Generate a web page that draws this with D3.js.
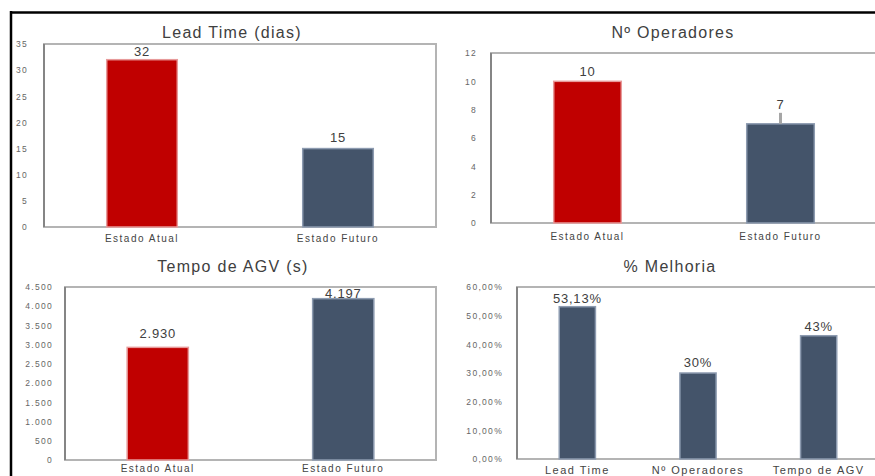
<!DOCTYPE html>
<html>
<head>
<meta charset="utf-8">
<script src="https://cdn.jsdelivr.net/npm/d3@7"></script>
<style>
  body { margin: 0; background: #fff; }
  svg { display: block; font-family: "Liberation Sans", Arial, sans-serif; }
</style>
</head>
<body>
<svg id="chart" width="875" height="476"></svg>
<script>
// data
const estados = ["Estado Atual", "Estado Futuro"];
const leadTime = [32, 15];
const operadores = [10, 7];
const tempoAGV = [2930, 4197];
const melhoriaCats = ["Lead Time", "Nº Operadores", "Tempo de AGV"];
const melhoria = [53.13, 30, 43];

const leadTicks = [0, 5, 10, 15, 20, 25, 30, 35];
const operTicks = [0, 2, 4, 6, 8, 10, 12];
const agvTicks = [0, 500, 1000, 1500, 2000, 2500, 3000, 3500, 4000, 4500];
const melhoriaTicks = [0, 10, 20, 30, 40, 50, 60];

const colorsTwo = ["#C00000", "#44546A"];
const edgeTwo = ["#e79a9a", "#8d9bb0"];

const pt = d3.formatLocale({ decimal: ",", thousands: ".", grouping: [3], currency: ["R$", ""] });
const fmtThousands = pt.format(",d");
const fmtPct2 = v => pt.format(",.2f")(v) + "%";

const svg = d3.select("#chart");

// outer black border (right/bottom cut off in the picture)
svg.append("line").attr("x1", 10).attr("x2", 875).attr("y1", 12.5).attr("y2", 12.5)
  .attr("stroke", "#000").attr("stroke-width", 2.5);
svg.append("line").attr("x1", 11).attr("x2", 11).attr("y1", 11).attr("y2", 476)
  .attr("stroke", "#000").attr("stroke-width", 2.5);

function panel(cfg) {
  const g = svg.append("g");
  const x = d3.scalePoint().domain(cfg.cats).range([cfg.x0, cfg.x1]).padding(0.5);
  const y = d3.scaleLinear().domain([0, cfg.max]).range([cfg.y1, cfg.y0]);
  const bw = x.step() * cfg.barFrac;

  // plot frame
  g.append("rect")
    .attr("x", cfg.x0).attr("y", cfg.y0)
    .attr("width", cfg.x1 - cfg.x0).attr("height", cfg.y1 - cfg.y0)
    .attr("fill", "#fff").attr("stroke", "#b4b4b4").attr("stroke-width", 2);
  g.append("line").attr("x1", cfg.x0).attr("x2", cfg.x0).attr("y1", cfg.y0).attr("y2", cfg.y1)
    .attr("stroke", "#858585").attr("stroke-width", 2);

  // title
  g.append("text").attr("x", cfg.titleX).attr("y", cfg.titleY)
    .attr("text-anchor", "middle").attr("font-size", 16).attr("letter-spacing", 1.3)
    .attr("fill", "#404040")
    .text(cfg.title);

  // y axis
  const ya = g.append("g").attr("transform", `translate(${cfg.x0},0)`)
    .call(d3.axisLeft(y).tickValues(cfg.ticks).tickFormat(cfg.tickFmt).tickSize(0).tickPadding(cfg.tickPad));
  ya.select(".domain").remove();
  ya.selectAll("text").attr("font-size", 8.5).attr("letter-spacing", 1.3).attr("fill", "#666")
    .attr("font-family", "Liberation Sans, Arial, sans-serif");

  // x labels
  g.selectAll(".xl").data(cfg.cats).enter().append("text")
    .attr("x", d => x(d)).attr("y", cfg.y1 + cfg.xLabelDy)
    .attr("text-anchor", "middle").attr("font-size", cfg.xLabelSize)
    .attr("letter-spacing", 1.5).attr("fill", "#444")
    .text(d => d);

  // bars
  g.selectAll(".bar").data(cfg.values).enter().append("rect")
    .attr("x", (d, i) => x(cfg.cats[i]) - bw / 2)
    .attr("y", d => y(d))
    .attr("width", bw)
    .attr("height", d => cfg.y1 - y(d))
    .attr("fill", (d, i) => cfg.colors[i % cfg.colors.length])
    .attr("stroke", (d, i) => cfg.edges[i % cfg.edges.length])
    .attr("stroke-width", 1.5);

  // value labels
  g.selectAll(".vl").data(cfg.values).enter().append("text")
    .attr("x", (d, i) => x(cfg.cats[i]))
    .attr("y", (d, i) => y(d) - cfg.labelGap[i])
    .attr("text-anchor", "middle").attr("font-size", 13).attr("letter-spacing", 0.8)
    .attr("fill", "#404040")
    .text((d, i) => cfg.labelFmt(d));

  return { g, x, y };
}

panel({
  title: "Lead Time (dias)", titleX: 232, titleY: 38,
  cats: estados, values: leadTime, max: 35, ticks: leadTicks,
  tickFmt: d3.format("d"), tickPad: 16,
  x0: 44, x1: 436, y0: 44, y1: 227, barFrac: 0.36,
  colors: colorsTwo, edges: edgeTwo,
  xLabelDy: 15, xLabelSize: 10,
  labelGap: [4, 7], labelFmt: d3.format("d")
});

const p2 = panel({
  title: "Nº Operadores", titleX: 673, titleY: 38,
  cats: estados, values: operadores, max: 12, ticks: operTicks,
  tickFmt: d3.format("d"), tickPad: 14,
  x0: 491, x1: 877, y0: 53, y1: 223, barFrac: 0.35,
  colors: colorsTwo, edges: edgeTwo,
  xLabelDy: 17, xLabelSize: 10,
  labelGap: [5, 15], labelFmt: d3.format("d")
});
// leader line from the "7" label down to its bar
p2.g.append("line")
  .attr("x1", p2.x(estados[1])).attr("x2", p2.x(estados[1]))
  .attr("y1", p2.y(operadores[1]) - 11).attr("y2", p2.y(operadores[1]))
  .attr("stroke", "#a6a6a6").attr("stroke-width", 3);

panel({
  title: "Tempo de AGV (s)", titleX: 233, titleY: 272,
  cats: estados, values: tempoAGV, max: 4500, ticks: agvTicks,
  tickFmt: fmtThousands, tickPad: 12,
  x0: 65, x1: 436, y0: 287, y1: 460, barFrac: 0.33,
  colors: colorsTwo, edges: edgeTwo,
  xLabelDy: 12, xLabelSize: 10,
  labelGap: [9, 1], labelFmt: fmtThousands
});

panel({
  title: "% Melhoria", titleX: 670, titleY: 272,
  cats: melhoriaCats, values: melhoria, max: 60, ticks: melhoriaTicks,
  tickFmt: fmtPct2, tickPad: 14,
  x0: 517, x1: 879, y0: 287, y1: 459, barFrac: 0.3,
  colors: ["#44546A"], edges: ["#8d9bb0"],
  xLabelDy: 15, xLabelSize: 11,
  labelGap: [4, 6, 5],
  labelFmt: d => (d % 1 === 0 ? d3.format("d")(d) + "%" : fmtPct2(d))
});
</script>
</body>
</html>
